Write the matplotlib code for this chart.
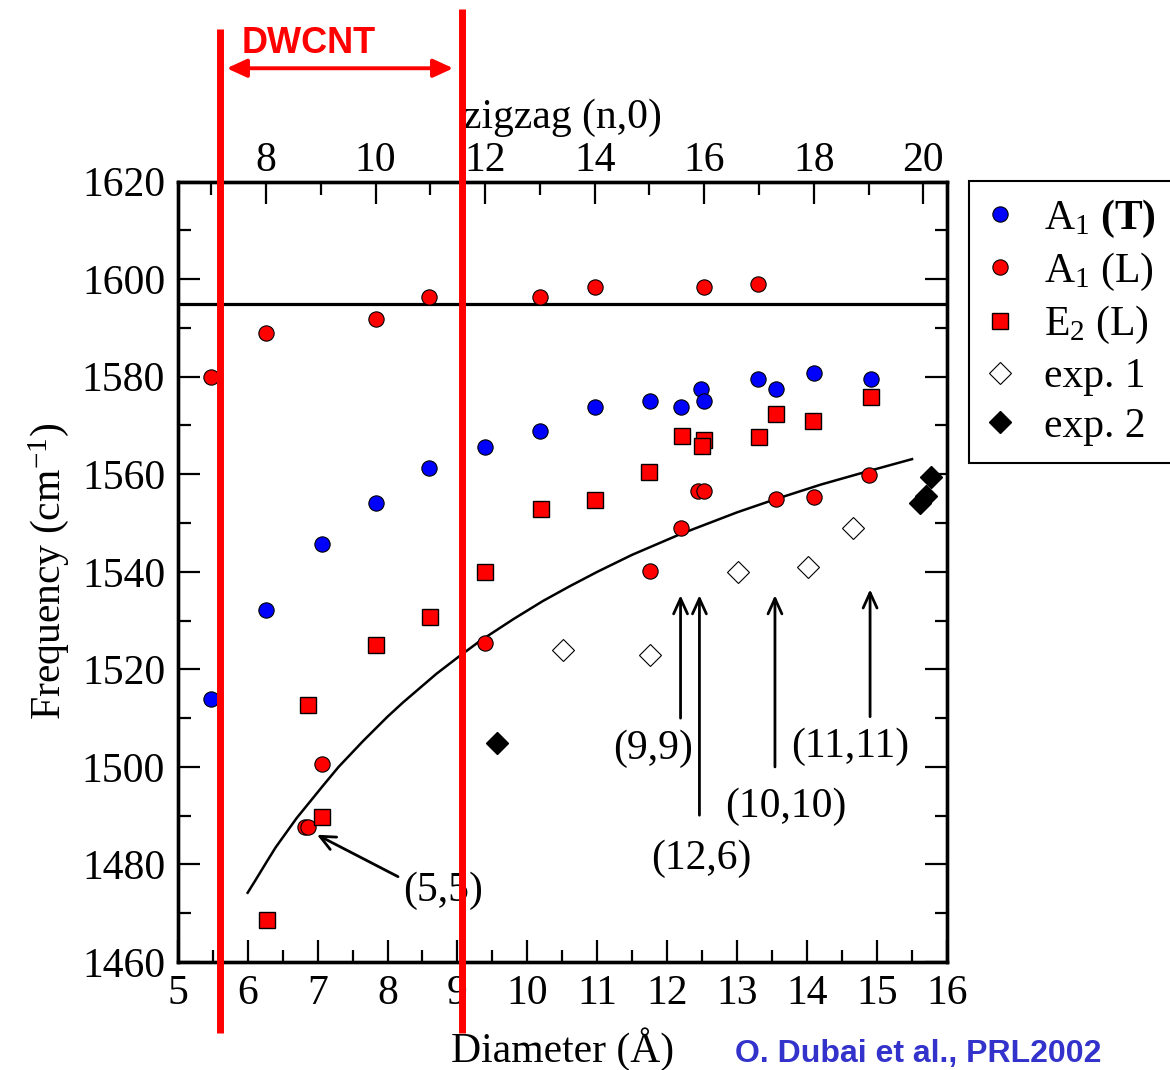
import numpy as np
import matplotlib
matplotlib.use("Agg")
import matplotlib.pyplot as plt

plt.rcParams['font.family'] = ['Liberation Serif', 'DejaVu Serif']
plt.rcParams['mathtext.fontset'] = 'custom'
plt.rcParams['mathtext.rm'] = 'Liberation Serif'
plt.rcParams['mathtext.it'] = 'Liberation Serif:italic'
plt.rcParams['mathtext.bf'] = 'Liberation Serif:bold'

# A1 (T) modes, calculated
a1t_d = [5.47, 6.26, 7.06, 7.83, 8.60, 9.40, 10.18, 10.96, 11.75, 12.20, 12.48, 12.52, 13.30, 13.56, 14.10, 14.91]
a1t_f = [1514.0, 1532.2, 1545.8, 1554.2, 1561.3, 1565.6, 1568.9, 1573.8, 1575.0, 1573.8, 1577.5, 1575.0, 1579.5, 1577.5, 1580.7, 1579.5]

# A1 (L) modes
a1l_d = [5.48, 6.26, 7.83, 8.60, 10.18, 10.96, 12.52, 13.30,
         7.06, 6.82, 6.87, 9.40, 11.75, 12.20, 12.44, 12.52, 13.55, 14.10, 14.89]
a1l_f = [1580.0, 1588.9, 1591.8, 1596.4, 1596.4, 1598.3, 1598.3, 1599.0,
         1500.7, 1487.7, 1487.7, 1525.5, 1540.2, 1548.9, 1556.6, 1556.6, 1554.9, 1555.3, 1559.8]

# E2 (L) modes
e2_d = [6.27, 6.87, 7.06, 7.83, 8.61, 9.39, 10.19, 10.96, 11.74, 12.21, 12.53, 12.49, 13.31, 13.56, 14.08, 14.91]
e2_f = [1468.6, 1512.7, 1489.8, 1524.9, 1530.8, 1540.0, 1552.9, 1554.7, 1560.5, 1567.9, 1567.0, 1565.8, 1567.7, 1572.3, 1570.9, 1575.8]

# experiments
exp1_d = [10.51, 11.76, 13.01, 14.01, 14.66]
exp1_f = [1524.0, 1522.9, 1540.0, 1541.0, 1548.9]
exp2_d = [9.57, 15.62, 15.70, 15.77]
exp2_f = [1505.0, 1554.2, 1555.5, 1559.5]

# fitted curve through the lower A1 (L) branch
fit_d = [6.0, 6.1, 6.27, 6.4, 6.7, 7.08, 7.3, 7.65, 8.0, 8.22, 8.7, 9.0, 9.32, 9.8,
         10.22, 10.6, 11.0, 11.5, 12.2, 13.0, 13.55, 14.2, 14.89, 15.5]
fit_f = [1474.2, 1476.5, 1480.5, 1483.5, 1489.5, 1496.2, 1500.0, 1505.3, 1510.3, 1513.2, 1519.1, 1522.4,
         1525.8, 1530.3, 1534.0, 1537.0, 1540.0, 1543.5, 1547.8, 1552.2, 1554.9, 1557.9, 1560.7, 1563.1]

graphite_f = 1595.0

# chirality labels and arrows
tube_labels = ['(5,5)', '(9,9)', '(12,6)', '(10,10)', '(11,11)']
label_d = [8.80, 11.80, 12.49, 13.69, 14.61]
label_f = [1474.7, 1503.8, 1481.2, 1491.8, 1504.1]
tip_d = [6.99, 12.19, 12.46, 13.54, 14.90]
tip_f = [1486.1, 1535.2, 1535.2, 1535.2, 1536.4]
tail_d = [8.15, 12.19, 12.46, 13.54, 14.90]
tail_f = [1477.5, 1510.0, 1490.1, 1500.0, 1510.3]

# zigzag (n,0) top axis
zigzag_major = [8, 10, 12, 14, 16, 18, 20]
zigzag_minor = [7, 9, 11, 13, 15, 17, 19]

# DWCNT window (diameter, A)
dwcnt_lo, dwcnt_hi = 5.60, 9.07

fig = plt.figure(figsize=(11.7, 10.7), dpi=100)
ax = fig.add_axes([0.1519, 0.1009, 0.6575, 0.7294])

ax.axhline(graphite_f, color='black', lw=2.3, zorder=2)
ax.plot(fit_d, fit_f, color='black', lw=1.8, zorder=2)

ms = 11
ax.plot(a1t_d, a1t_f, 'o', color='#0000ff', mec='black', mew=0.8, ms=ms, label=r'A$_1$ $\mathbf{(T)}$', zorder=3)
ax.plot(a1l_d, a1l_f, 'o', color='#ff0000', mec='black', mew=0.8, ms=ms, label=r'A$_1$ (L)', zorder=3)
ax.plot(e2_d, e2_f, 's', color='#ff0000', mec='black', mew=1.0, ms=ms, label=r'E$_2$ (L)', zorder=3)
ax.plot(exp1_d, exp1_f, 'D', mfc='white', mec='black', mew=0.8, ms=11.5, label='exp. 1', zorder=3)
ax.plot(exp2_d, exp2_f, 'D', color='black', ms=11.5, label='exp. 2', zorder=3)

for lab, xd, yf in zip(tube_labels, label_d, label_f):
    ax.text(xd, yf, lab, fontsize=30, ha='center', va='center', zorder=4)
for x0, y0, x1, y1 in zip(tail_d, tail_f, tip_d, tip_f):
    ax.annotate('', xy=(x1, y1), xytext=(x0, y0),
                arrowprops=dict(arrowstyle='->,head_length=1.1,head_width=0.5',
                                color='black', lw=2.0, shrinkA=0, shrinkB=0))

ax.set_xlim(5, 16)
ax.set_ylim(1460, 1620)
ax.set_xticks(np.arange(5, 17, 1))
ax.set_xticks(np.arange(5, 16.01, 0.5), minor=True)
ax.set_yticks(np.arange(1460, 1621, 20))
ax.set_yticks(np.arange(1460, 1621, 10), minor=True)
ax.tick_params(which='both', direction='in', top=False, right=True, width=1.6, labelsize=30)
ax.tick_params(which='major', length=16, pad=9)
ax.tick_params(which='minor', length=9)
ax.set_xlabel('Diameter (Å)', fontsize=30, labelpad=10)
ax.set_ylabel('Frequency (cm$^{-1}$)', fontsize=30, labelpad=8)
for sp in ax.spines.values():
    sp.set_linewidth(2.4)

# zigzag index on top
ax2 = ax.twiny()
ax2.set_xlim(5, 16)
zz = lambda n: 2.46 * np.asarray(n) / np.pi
ax2.set_xticks(zz(zigzag_major))
ax2.set_xticklabels([str(n) for n in zigzag_major])
ax2.set_xticks(zz(zigzag_minor), minor=True)
ax2.tick_params(which='both', direction='in', width=1.6, labelsize=30)
ax2.tick_params(which='major', length=16, pad=1)
ax2.tick_params(which='minor', length=9)
ax2.set_xlabel('zigzag (n,0)', fontsize=30, labelpad=10)
for sp in ax2.spines.values():
    sp.set_linewidth(2.4)

leg = ax.legend(loc='upper left', bbox_to_anchor=(969 / 1170, 1 - 181 / 1070),
                bbox_transform=fig.transFigure, borderaxespad=0, fontsize=30,
                frameon=True, fancybox=False, edgecolor='black', framealpha=1,
                borderpad=0.4, handlelength=0.7, handletextpad=0.7, labelspacing=0.27,
                numpoints=1)
leg.get_frame().set_linewidth(1.5)

# DWCNT window marks
xt = ax2.get_xaxis_transform()
for xd, ytop in [(dwcnt_lo, 1.1955), (dwcnt_hi, 1.221)]:
    ax2.plot([xd, xd], [-0.091, ytop], color='#ff0000', lw=5, transform=xt,
             clip_on=False, zorder=10, solid_capstyle='butt')
ax2.annotate('', xy=(8.94, 1.1452), xytext=(5.70, 1.1452),
             xycoords=xt, textcoords=xt,
             arrowprops=dict(arrowstyle='<|-|>,head_length=1.2,head_width=0.55',
                             color='#ff0000', lw=2.8, shrinkA=0, shrinkB=0))
ax2.text(5.914, 1.1652, 'DWCNT', transform=xt, color='#ff0000', fontsize=26,
         fontweight='bold', family=['Liberation Sans', 'DejaVu Sans'], ha='left', va='baseline')

fig.text(735 / 1170, (1070 - 1062) / 1070, 'O. Dubai et al., PRL2002', color='#3333cc',
         fontsize=23, fontweight='bold', family=['Liberation Sans', 'DejaVu Sans'],
         ha='left', va='baseline')

fig.savefig('out.png', dpi=100)
